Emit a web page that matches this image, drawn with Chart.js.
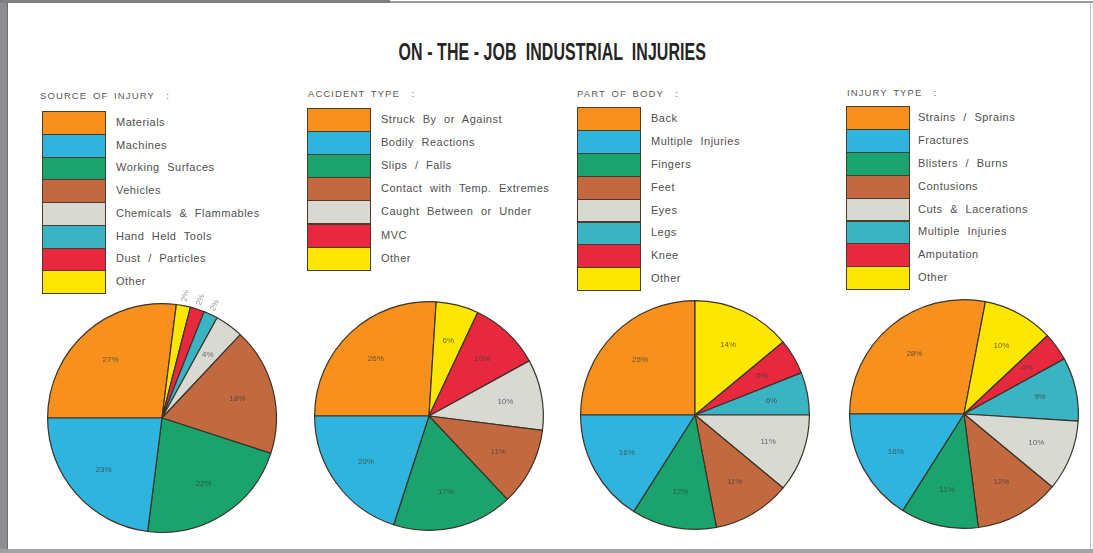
<!DOCTYPE html>
<html>
<head>
<meta charset="utf-8">
<script src="https://cdn.jsdelivr.net/npm/chart.js@4/dist/chart.umd.min.js"></script>
<style>
  html, body { margin: 0; padding: 0; background: #fff; }
  body { width: 1093px; height: 553px; position: relative; overflow: hidden; font-family: "Liberation Sans", Arial, sans-serif; }
  .frame-left { position: absolute; left: 0; top: 0; width: 7px; height: 553px; background: #8e8e92; border-right: 1px solid #6f6f73; }
  .frame-top-dark { position: absolute; left: 0; top: 0; width: 390px; height: 3px; background: #7f7f83; }
  .frame-top-line { position: absolute; left: 390px; top: 1px; width: 703px; height: 2px; background: #9c9ca0; }
  .frame-bottom { position: absolute; left: 0; top: 549px; width: 1093px; height: 4px; background: #a2a2a6; }
  .frame-right { position: absolute; left: 1090px; top: 3px; width: 1px; height: 546px; background: #c4c4c8; }
  .title { position: absolute; left: 6px; width: 1093px; top: 40px; text-align: center; white-space: nowrap; }
  .title span { display: inline-block; font-weight: bold; font-size: 21px; color: #262626; letter-spacing: 0.1px; transform: scale(0.76, 1.1); }
  .legend { position: absolute; white-space: nowrap; }
  .legend .head { position: absolute; left: 0; top: 0; font-size: 9.5px; color: #595959; letter-spacing: 1.1px; word-spacing: 2px; white-space: nowrap; }
  .legend .sw { position: absolute; left: 0; top: 0; width: 64px; box-sizing: border-box; border: 1px solid #4a3c2a; }
  .legend .tx { position: absolute; left: 0; top: 0; font-size: 11px; color: #505050; letter-spacing: 0.5px; word-spacing: 4px; white-space: nowrap; }
  canvas { position: absolute; }
</style>
</head>
<body>
<div class="frame-left"></div>
<div class="frame-top-dark"></div>
<div class="frame-top-line"></div>
<div class="frame-bottom"></div>
<div class="frame-right"></div>
<div class="title"><span>ON - THE - JOB &nbsp;INDUSTRIAL &nbsp;INJURIES</span></div>

<div id="legends"></div>
<canvas id="pie1" width="280" height="280"></canvas>
<canvas id="pie2" width="280" height="280"></canvas>
<canvas id="pie3" width="280" height="280"></canvas>
<canvas id="pie4" width="280" height="280"></canvas>

<script>
// Shares of injuries (percent), in legend order
const sourceLabels = ["Materials", "Machines", "Working Surfaces", "Vehicles", "Chemicals & Flammables", "Hand Held Tools", "Dust / Particles", "Other"];
const sourceValues = [27, 23, 22, 18, 4, 2, 2, 2];

const accidentLabels = ["Struck By or Against", "Bodily Reactions", "Slips / Falls", "Contact with Temp. Extremes", "Caught Between or Under", "MVC", "Other"];
const accidentValues = [26, 20, 17, 11, 10, 10, 6];

const bodyLabels = ["Back", "Multiple Injuries", "Fingers", "Feet", "Eyes", "Legs", "Knee", "Other"];
const bodyValues = [25, 16, 12, 11, 11, 6, 5, 14];

const injuryLabels = ["Strains / Sprains", "Fractures", "Blisters / Burns", "Contusions", "Cuts & Lacerations", "Multiple Injuries", "Amputation", "Other"];
const injuryValues = [28, 16, 11, 12, 10, 9, 4, 10];

const panelTitles = ["SOURCE OF INJURY  :", "ACCIDENT TYPE  :", "PART OF BODY  :", "INJURY TYPE  :"];

// Palette
const C = {
  orange: "#f7901c",
  blue: "#2fb4de",
  green: "#1aa36c",
  brown: "#c2693f",
  grey: "#d9d9d3",
  teal: "#3ab3c2",
  red: "#e8283e",
  yellow: "#fde600"
};
const sourceColors = [C.orange, C.blue, C.green, C.brown, C.grey, C.teal, C.red, C.yellow];
const accidentColors = [C.orange, C.blue, C.green, C.brown, C.grey, C.red, C.yellow];
const bodyColors = [C.orange, C.blue, C.green, C.brown, C.grey, C.teal, C.red, C.yellow];
const injuryColors = [C.orange, C.blue, C.green, C.brown, C.grey, C.teal, C.red, C.yellow];

const panels = [
  { id: "pie1", labels: sourceLabels, values: sourceValues, colors: sourceColors, cx: 162, cy: 418,
    legend: { x: 40, headY: 90, boxX: 42, boxY: 111, rowH: 22.75, textX: 116 } },
  { id: "pie2", labels: accidentLabels, values: accidentValues, colors: accidentColors, cx: 428.5, cy: 415.5,
    legend: { x: 308, headY: 88, boxX: 307, boxY: 108, rowH: 23.1, textX: 381 } },
  { id: "pie3", labels: bodyLabels, values: bodyValues, colors: bodyColors, cx: 694.5, cy: 414.5,
    legend: { x: 577, headY: 88, boxX: 577, boxY: 107, rowH: 22.9, textX: 651 } },
  { id: "pie4", labels: injuryLabels, values: injuryValues, colors: injuryColors, cx: 964, cy: 413.5,
    legend: { x: 847, headY: 87, boxX: 846, boxY: 106, rowH: 22.9, textX: 918 } }
];

// Legends: swatch column with the category name beside each swatch
const legendHost = document.getElementById("legends");
panels.forEach((p, pi) => {
  const L = p.legend;
  const head = document.createElement("div");
  head.className = "legend";
  head.style.left = L.x + "px";
  head.style.top = L.headY + "px";
  head.innerHTML = '<div class="head">' + panelTitles[pi].replace(/  /g, " &nbsp;") + '</div>';
  legendHost.appendChild(head);
  p.labels.forEach((lab, i) => {
    const sw = document.createElement("div");
    sw.className = "legend";
    sw.style.left = L.boxX + "px";
    sw.style.top = (L.boxY + i * L.rowH) + "px";
    sw.innerHTML = '<div class="sw" style="height:' + (L.rowH + 1).toFixed(1) + 'px;background:' + p.colors[i] + '"></div>';
    legendHost.appendChild(sw);
    const tx = document.createElement("div");
    tx.className = "legend";
    tx.style.left = L.textX + "px";
    tx.style.top = (L.boxY + i * L.rowH + L.rowH / 2 - 6.5) + "px";
    tx.innerHTML = '<div class="tx">' + lab.replace(/&/g, "&amp;") + '</div>';
    legendHost.appendChild(tx);
  });
});

// Slice order around each pie: first category from 9 o'clock, the rest in reverse legend order
function drawOrder(n) {
  const idx = [0];
  for (let i = n - 1; i >= 1; i--) idx.push(i);
  return idx;
}

// Percentage labels inside the slices (outside for very thin slices)
const sliceLabels = {
  id: "sliceLabels",
  afterDatasetsDraw(chart) {
    const ctx = chart.ctx;
    const meta = chart.getDatasetMeta(0);
    const values = chart.data.datasets[0].data;
    ctx.save();
    ctx.font = "8px 'Liberation Sans', Arial, sans-serif";
    ctx.fillStyle = "rgba(60,60,60,0.75)";
    ctx.textAlign = "center";
    ctx.textBaseline = "middle";
    meta.data.forEach((arc, i) => {
      const { x, y, startAngle, endAngle, outerRadius } = arc.getProps(["x", "y", "startAngle", "endAngle", "outerRadius"], true);
      const mid = (startAngle + endAngle) / 2;
      const v = values[i];
      const text = v + "%";
      if (v < 3) {
        const r = outerRadius + 10;
        ctx.save();
        ctx.translate(x + Math.cos(mid) * r, y + Math.sin(mid) * r);
        ctx.rotate(mid);
        ctx.fillStyle = "rgba(110,110,110,0.7)";
        ctx.fillText(text, 0, 0);
        ctx.restore();
      } else {
        const r = outerRadius * 0.68;
        ctx.fillText(text, x + Math.cos(mid) * r, y + Math.sin(mid) * r);
      }
    });
    ctx.restore();
  }
};

const SIZE = 280;
panels.forEach(p => {
  const cv = document.getElementById(p.id);
  cv.style.left = (p.cx - SIZE / 2) + "px";
  cv.style.top = (p.cy - SIZE / 2) + "px";
  const order = drawOrder(p.values.length);
  new Chart(cv, {
    type: "pie",
    data: {
      labels: order.map(i => p.labels[i]),
      datasets: [{
        data: order.map(i => p.values[i]),
        backgroundColor: order.map(i => p.colors[i]),
        borderColor: "#3b3328",
        borderWidth: 1.2
      }]
    },
    options: {
      responsive: false,
      animation: false,
      rotation: -90,
      layout: { padding: 25 },
      plugins: {
        legend: { display: false },
        tooltip: { enabled: false }
      }
    },
    plugins: [sliceLabels]
  });
});
</script>
</body>
</html>
